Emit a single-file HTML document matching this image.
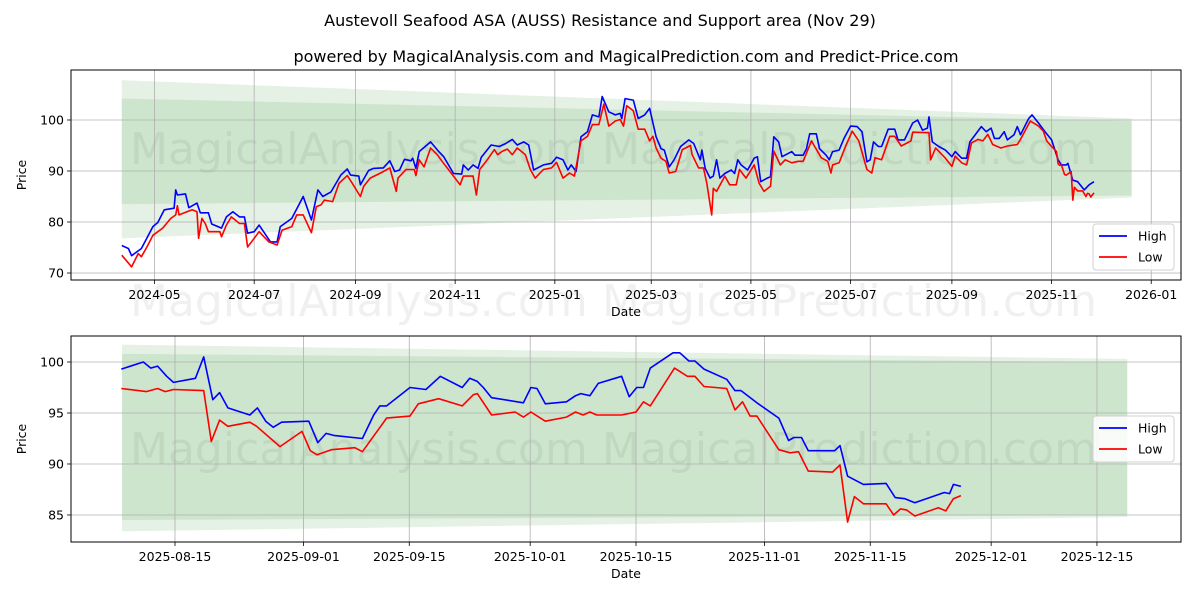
<!DOCTYPE html>
<html><head><meta charset="utf-8"><style>
body{margin:0;background:#fff;}
svg text{font-family:"DejaVu Sans","Liberation Sans",sans-serif;}
</style></head><body>
<svg id="c" width="1200" height="600" viewBox="0 0 1200 600" xmlns="http://www.w3.org/2000/svg">
<rect width="1200" height="600" fill="#fff"/>
<text x="600" y="26" font-size="16" text-anchor="middle">Austevoll Seafood ASA (AUSS) Resistance and Support area (Nov 29)</text>
<text x="626" y="62" font-size="16" text-anchor="middle">powered by MagicalAnalysis.com and MagicalPrediction.com and Predict-Price.com</text>
</svg>
<script>
// ---- top chart data (day offsets from 2024-05-01) ----
const topHighDays=[-20,-16,-14,-8,-1,2,6,12,13,14,19,21,26,28,33,35,41,44,48,52,55,57,61,64,71,75,77,84,91,96,100,103,108,114,118,120,125,126,131,134,140,144,147,150,153,157,158,160,162,169,174,177,183,188,189,192,195,198,200,206,211,215,219,222,226,229,232,238,243,246,250,253,255,258,261,265,268,272,274,278,282,285,286,288,293,296,300,303,307,310,312,315,318,322,327,330,334,335,337,340,342,344,346,349,353,355,357,359,363,367,369,371,375,377,379,382,384,390,392,397,399,401,405,407,411,413,415,419,422,426,430,433,436,438,440,443,445,449,453,455,459,464,467,470,473,474,476,480,484,488,490,494,497,499,506,509,512,514,517,520,522,526,528,530,535,537,541,545,549,553,555,558,559,562,565,569,572,575];
const topHighVals=[75.4,74.8,73.4,74.8,79.1,79.9,82.4,82.7,86.3,85.3,85.5,82.8,83.7,81.8,81.8,79.6,78.8,81,82,81,81,77.8,78.1,79.4,76.1,76.1,79.1,80.7,85,80.4,86.3,85,85.9,89.2,90.4,89.2,89,87.3,90.1,90.5,90.6,92,89.9,90.2,92.3,92,92.5,90.5,93.8,95.7,93.8,92.8,89.5,89.4,91.2,90.2,91.2,90.5,92.7,95.1,94.8,95.4,96.2,95.1,95.7,95.1,90.2,91.2,91.5,92.7,92.2,90.2,91.2,89.9,96.7,97.7,101,100.6,104.6,101.6,101,101.3,100.3,104.2,103.9,100.3,101,102.3,96.7,94.4,94.1,90.8,92.2,94.8,96.1,95.4,92.2,94.1,90.5,88.6,89,92.2,88.6,89.5,90.2,89.5,92.2,91.2,90.2,92.5,92.8,87.9,88.6,88.9,96.7,95.7,92.8,93.8,93.1,93.1,94.4,97.3,97.3,94.4,93.1,92.2,93.8,94.1,96.4,98.8,98.7,97.7,91.8,92.2,95.7,94.8,94.8,98.2,98.2,96.1,96.1,99.4,100,98,98.4,100.6,95.7,94.8,94.1,92.8,93.8,92.5,92.5,95.7,98.7,97.7,98.4,96.4,96.4,97.7,96.1,97.1,98.7,97.1,100.3,101,99.4,97.7,96.1,92.2,91.2,91.2,91.5,88.2,87.9,86.3,87.3,87.9];
const topLowDays=[-20,-14,-10,-8,-4,-1,5,10,13,14,15,23,26,27,29,31,33,40,41,44,47,52,55,57,61,64,70,75,78,84,87,91,96,99,102,104,109,113,118,121,126,128,132,139,144,148,149,154,159,160,162,165,169,173,176,183,187,189,195,197,199,203,208,210,213,216,219,222,227,230,233,238,243,246,250,254,257,261,265,268,272,275,278,282,285,287,289,293,296,300,303,305,307,310,313,315,319,323,328,329,333,336,338,341,342,344,349,352,356,358,362,367,370,373,377,379,383,386,390,394,397,402,408,412,414,415,419,423,427,431,436,439,441,445,450,453,457,463,464,474,475,478,484,488,490,494,497,500,504,507,510,513,518,522,528,530,536,541,544,546,549,552,553,554,555,557,558,561,562,563,565,568,570,571,572,573,575];
const topLowVals=[73.5,71.2,73.8,73.2,75.5,77.4,78.8,80.7,81.4,83.2,81.4,82.4,82,76.8,80.7,79.7,78.1,78.1,77.1,79.4,81,79.7,79.7,75.1,76.8,78.1,76.1,75.5,78.4,79.1,81.4,81.4,77.9,83,83.4,84.3,84,87.6,89.1,87.6,85,87,88.6,89.7,90.6,86,88.6,90.3,90.3,89.1,92.2,90.8,94.5,93.2,91.9,89,87.3,89,89,85.3,90.3,91.9,94.2,93.2,93.9,94.3,93.2,94.5,93.2,90.3,88.6,90.3,90.6,91.7,88.6,89.6,89,95.9,96.8,99.1,99.1,103.1,98.8,99.8,100.1,98.8,102.8,101.8,98.2,98.2,95.9,96.8,94.5,92.5,91.9,89.6,89.9,94.2,95,93.2,90.6,90.6,87.6,81.4,86.6,86,89,87.3,87.3,90.3,88.6,91.2,87.6,86,87,93.9,91.2,92.2,91.6,91.9,91.9,95.9,92.6,91.9,89.6,91.2,91.6,94.9,97.8,95.9,90.3,89.6,92.6,92.2,96.8,96.8,94.9,95.9,97.6,97.5,92.2,94.5,92.5,90.9,92.9,91.6,91.2,95.5,96.2,95.9,97.2,95.2,94.5,94.9,95.2,96.2,99.8,98.8,97.8,95.9,94.8,93.8,91.4,91.1,91.2,89.3,89.2,89.9,84.3,86.8,86.1,86.1,85,85.6,85.5,84.9,85.7,85.4,86.6,86.9];
const topTicks=["2024-05","2024-07","2024-09","2024-11","2025-01","2025-03","2025-05","2025-07","2025-09","2025-11","2026-01"];
const topYTicks=[70,80,90,100];
const topBandDays=[-20,598];
const topOuterUpper=[107.8,100.3];
const topInnerUpper=[104.2,99.8];
const topInnerLower=[83.5,85.2];
const topOuterLower=[76.8,84.8];
// ---- bottom chart data (day offsets from 2025-08-15) ----
const botHighDays=[-7.1,-4.2,-3.2,-2.3,-1.1,-0.2,2.7,3.8,5,5.9,7,9.9,10.9,12,13,14.1,17.7,18.9,20,21,24.8,26.3,27.1,28,31.1,33.2,35.1,38,39,40,40.8,41.9,46.1,47.1,47.9,49,51.8,53,53.7,54.9,56,59.1,60.1,61.1,62,62.9,65.9,66.8,68,68.8,70,73,74.1,74.9,77,79.9,81.2,81.9,82.9,83.8,87.3,88,89,91.1,94.1,95.3,96.6,97.9,101.8,102.5,103,104];
const botHighVals=[99.3,100,99.4,99.6,98.6,98,98.4,100.5,96.3,97,95.5,94.8,95.5,94.2,93.6,94.1,94.2,92.1,93,92.8,92.5,94.8,95.7,95.7,97.5,97.3,98.6,97.5,98.4,98.1,97.5,96.5,96,97.5,97.4,95.9,96.1,96.7,96.9,96.7,97.9,98.6,96.6,97.5,97.5,99.4,100.9,100.9,100.1,100.1,99.3,98.3,97.2,97.2,96,94.5,92.3,92.6,92.6,91.3,91.3,91.8,88.8,88,88.1,86.7,86.6,86.2,87.2,87.1,88,87.8];
const botLowDays=[-7.1,-3.8,-2.3,-1.3,-0.2,3.8,4.8,5.9,7,9.9,10.8,13.9,16.8,17.9,18.8,20.7,23.8,24.8,28,31.1,32.2,34.9,38,39.5,40,41.9,45,46.1,47.1,49,51.8,53,54,54.9,55.8,59.1,61,62,62.9,66.1,67.8,68.8,70,73,74.1,75.1,76.1,77,79.9,81.4,82.5,83.8,87,88,89,89.9,91.1,94.1,95.1,96,96.8,97.9,101,102,103,104];
const botLowVals=[97.4,97.1,97.4,97.1,97.3,97.2,92.2,94.3,93.7,94.1,93.7,91.7,93.2,91.3,90.9,91.4,91.6,91.2,94.5,94.7,95.9,96.4,95.7,96.8,96.9,94.8,95.1,94.6,95.1,94.2,94.6,95.1,94.8,95.1,94.8,94.8,95.1,96.1,95.7,99.4,98.6,98.6,97.6,97.4,95.3,96.1,94.7,94.7,91.4,91.1,91.2,89.3,89.2,89.9,84.3,86.8,86.1,86.1,85,85.6,85.5,84.9,85.7,85.4,86.6,86.9];
const botTicks=["2025-08-15","2025-09-01","2025-09-15","2025-10-01","2025-10-15","2025-11-01","2025-11-15","2025-12-01","2025-12-15"];
const botYTicks=[85,90,95,100];
const botBandDays=[-7,126];
const botOuterUpper=[101.7,100.3];
const botInnerUpper=[100.8,100];
const botInnerLower=[84.5,85];
const botOuterLower=[83.4,84.8];

const NS="http://www.w3.org/2000/svg";
const svg=document.getElementById('c');
function mk(tag,attrs,parent){const e=document.createElementNS(NS,tag);for(const k in attrs)e.setAttribute(k,attrs[k]);(parent||svg).appendChild(e);return e;}
const DAY=86400000;
function dayOf(str,base){const p=str.split('-').map(Number);return (Date.UTC(p[0],p[1]-1,p[2]||1)-base)/DAY;}

function drawPanel(o){
  const g=mk('g',{});
  
  
  const X=d=>o.x0+(d-o.d0)*o.pxDay;
  const Y=v=>o.top+(o.vmax-v)/(o.vmax-o.vmin)*(o.bottom-o.top);
  const outer=mk('polygon',{points:[X(o.bd[0])+','+Y(o.ou[0]),X(o.bd[1])+','+Y(o.ou[1]),X(o.bd[1])+','+Y(o.ol[1]),X(o.bd[0])+','+Y(o.ol[0])].join(' '),fill:'#e4f1e4'},g);
  
  
  const inner=mk('polygon',{points:[X(o.bd[0])+','+Y(o.iu[0]),X(o.bd[1])+','+Y(o.iu[1]),X(o.bd[1])+','+Y(o.il[1]),X(o.bd[0])+','+Y(o.il[0])].join(' '),fill:'#cde5cd'},g);
  
  
  o.wm.forEach(w=>{const t=mk('text',{x:w[0],y:w[1],'font-size':44,fill:'#000','fill-opacity':0.06},g);t.textContent=w[2];
    
    });
  o.ticks.forEach(s=>{const x=X(dayOf(s,o.base));
    mk('line',{x1:x,x2:x,y1:o.top,y2:o.bottom,stroke:'#b0b0b0','stroke-width':0.8},g);
    mk('line',{x1:x,x2:x,y1:o.bottom,y2:o.bottom+4,stroke:'#000','stroke-width':0.8},g);
    const t=mk('text',{x:x,y:o.bottom+19,'font-size':12.5,'text-anchor':'middle'},g);t.textContent=s;
    
    });
  o.yticks.forEach(v=>{const y=Y(v);
    mk('line',{x1:o.left,x2:o.right,y1:y,y2:y,stroke:'#b0b0b0','stroke-width':0.8},g);
    mk('line',{x1:o.left-4,x2:o.left,y1:y,y2:y,stroke:'#000','stroke-width':0.8},g);
    const t=mk('text',{x:o.left-7,y:y+4.5,'font-size':12.5,'text-anchor':'end'},g);t.textContent=v;
    
    });
  const hl=mk('polyline',{points:o.hd.map((d,i)=>X(d).toFixed(1)+','+Y(o.hv[i]).toFixed(1)).join(' '),fill:'none',stroke:'#0000ff','stroke-width':1.6,'stroke-linejoin':'round'},g);
  
  
  const ll=mk('polyline',{points:o.ld.map((d,i)=>X(d).toFixed(1)+','+Y(o.lv[i]).toFixed(1)).join(' '),fill:'none',stroke:'#ff0000','stroke-width':1.6,'stroke-linejoin':'round'},g);
  
  
  const fr=mk('rect',{x:o.left,y:o.top,width:o.right-o.left,height:o.bottom-o.top,fill:'none',stroke:'#000','stroke-width':1},g);
  
  
  const xl=mk('text',{x:(o.left+o.right)/2,y:o.bottom+36,'font-size':12.5,'text-anchor':'middle'},g);xl.textContent='Date';
  
  
  const cy=(o.top+o.bottom)/2;
  const yl=mk('text',{x:26,y:cy,'font-size':12.5,'text-anchor':'middle',transform:'rotate(-90 26 '+cy+')'},g);yl.textContent='Price';
  
  
  const lg=mk('g',{},g);
  
  
  mk('rect',{x:o.right-88,y:o.legY,width:81,height:46,rx:3,fill:'#fff','fill-opacity':0.85,stroke:'#d0d0d0'},lg);
  [['High','#0000ff'],['Low','#ff0000']].forEach((e,i)=>{const y=o.legY+12+i*21;
    const en=mk('g',{},lg);
    
    
    mk('line',{x1:o.right-82,x2:o.right-54,y1:y,y2:y,stroke:e[1],'stroke-width':1.8},en);
    const t=mk('text',{x:o.right-43,y:y+4.5,'font-size':12.5},en);t.textContent=e[0];});
}
drawPanel({name:'top-chart',base:Date.UTC(2024,4,1),d0:0,x0:154.5,pxDay:1.634,left:71,right:1181,top:70,bottom:280,vmin:68.63,vmax:109.8,
  bd:topBandDays,ou:topOuterUpper,iu:topInnerUpper,il:topInnerLower,ol:topOuterLower,
  hd:topHighDays,hv:topHighVals,ld:topLowDays,lv:topLowVals,ticks:topTicks,yticks:topYTicks,legY:224,
  wm:[[130,164,'MagicalAnalysis.com'],[602,164,'MagicalPrediction.com'],[130,316,'MagicalAnalysis.com'],[602,316,'MagicalPrediction.com']]});
drawPanel({name:'bottom-chart',base:Date.UTC(2025,7,15),d0:0,x0:175,pxDay:7.557,left:71,right:1181,top:336,bottom:542,vmin:82.35,vmax:102.55,
  bd:botBandDays,ou:botOuterUpper,iu:botInnerUpper,il:botInnerLower,ol:botOuterLower,
  hd:botHighDays,hv:botHighVals,ld:botLowDays,lv:botLowVals,ticks:botTicks,yticks:botYTicks,legY:416,
  wm:[[130,464,'MagicalAnalysis.com'],[602,464,'MagicalPrediction.com']]});
</script>
</body></html>
